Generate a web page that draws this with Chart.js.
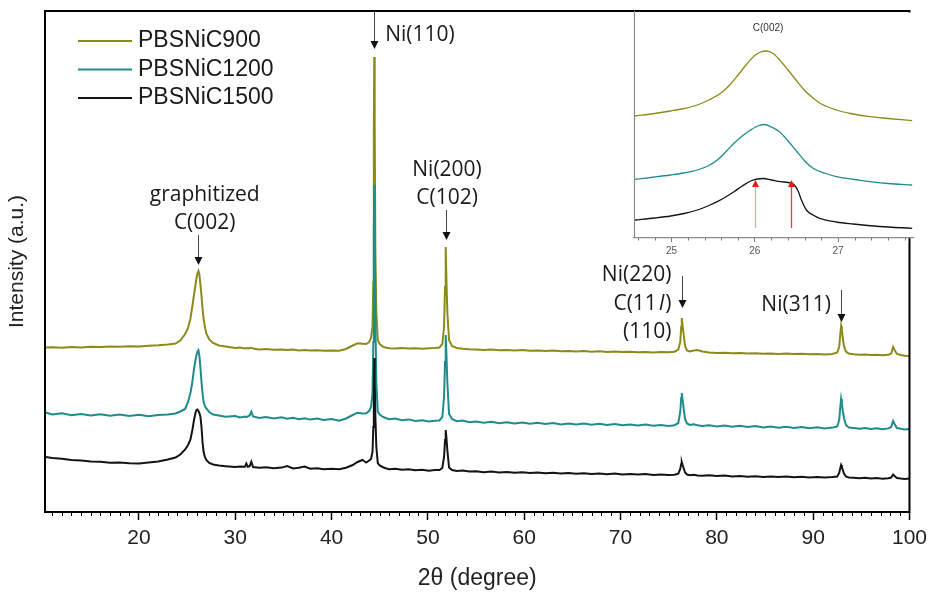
<!DOCTYPE html>
<html>
<head>
<meta charset="utf-8">
<script src="https://cdn.jsdelivr.net/npm/chart.js@4.4.0/dist/chart.umd.min.js"></script>
<style>
  html, body { margin: 0; padding: 0; background: #fff; }
  #wrap { position: relative; width: 933px; height: 592px; }
  #mainChart { position: absolute; left: 0; top: 0; }
  #insetChart { position: absolute; left: 600px; top: 0; }
</style>
</head>
<body>
<div id="wrap">
  <canvas id="mainChart" width="933" height="592"></canvas>
  <canvas id="insetChart" width="333" height="270"></canvas>
</div>
<script>
// 2theta positions (degree) for the full scans
const twoTheta = [
    10.3, 11, 12, 13, 14, 15, 16, 17, 18, 19, 20, 21, 22, 23,
    23.8, 24.3, 24.8, 25.1, 25.35, 25.55, 25.72, 25.87, 25.98, 26.08, 26.18, 26.28, 26.38, 26.49, 26.6, 26.72, 26.85, 27.0, 27.3, 27.7, 28.3,
    29, 30, 30.5, 31.0, 31.15, 31.3, 31.5, 31.67, 31.85, 32.5, 33.2, 34, 34.8, 35.4, 36, 36.6, 37.2, 37.8, 38.5, 39.2, 40, 40.8, 41.5, 42.2, 42.7, 43.2, 43.6, 43.9,
    44.1, 44.25, 44.34, 44.39, 44.43, 44.48, 44.55, 44.65, 44.8, 45.0, 45.3, 45.6, 46.0,
    46.6, 47.3, 48, 48.7, 49.4, 50.1, 50.7, 51.2, 51.5, 51.68, 51.78, 51.85, 51.92, 52.02, 52.2, 52.5, 53, 53.6, 54.3,
    55, 55.8, 56.6, 57.4, 58.2, 59, 59.8, 60.6, 61.4, 62.2, 63, 63.8, 64.6, 65.4, 66.2, 67, 67.8, 68.6, 69.4, 70.2, 71, 71.8, 72.6, 73.4, 74.2, 75, 75.6, 76.0,
    76.2, 76.3, 76.36, 76.45, 76.55, 76.7, 76.9, 77.2, 77.6, 78.0, 78.5,
    79.2, 80, 80.8, 81.6, 82.4, 83.2, 84, 84.8, 85.6, 86.4, 87.2, 88, 88.8, 89.6, 90.4, 91.2, 92.0, 92.5,
    92.7, 92.82, 92.9, 92.98, 93.08, 93.2, 93.4, 93.7,
    94.2, 94.8, 95.4, 96, 96.6, 97.2, 97.8, 98.1, 98.3, 98.45, 98.7, 99.1, 99.5, 100
];

// intensities (a.u., offset patterns as plotted)
const pbsnic900 = [
    164.5, 164.8, 164.3, 165, 164.6, 165.2, 164.9, 165.5, 165.2, 165.8, 165.6, 166.3, 166.8, 167.6,
    168.5, 171.5, 178, 184, 193.5, 206, 217, 227, 234, 238.7, 241, 237.5, 228, 217, 204, 193, 185, 178.5, 172.5, 169, 166.5,
    165.5, 164, 164.5, 163.6, 164, 163.5, 164, 164.3, 163.4, 162.5, 163, 162.2, 162.6, 162, 162.4, 161.6, 162, 161.4, 161.8, 161.2, 161.6, 161.3, 163, 166.5, 168.7, 168.3, 168, 170,
    174, 185, 230, 380, 455, 390, 260, 200, 172, 168, 165.5, 164.5, 163.8,
    163.5, 164, 163.4, 163.8, 163.3, 163.7, 163.9, 164.5, 168, 185, 225, 265, 235, 200, 172, 166, 164, 163.2, 162.7,
    162.5, 162, 162.4, 161.8, 162.1, 161.5, 161.9, 161.2, 161.6, 161, 161.4, 160.8, 161.1, 160.5, 160.9, 160.3, 160.7, 160.1, 160.5, 159.9, 160.3, 159.8, 160.1, 159.6, 160, 159.7, 160.3, 162.5,
    170, 185, 194, 186, 178, 166, 161.5, 160.5, 161.5, 162, 160.5,
    159.5, 159, 159.3, 158.7, 159, 158.5, 158.8, 158.2, 158.6, 158, 158.4, 157.9, 158.2, 157.7, 158, 157.6, 158, 159.5,
    165, 178, 186, 181, 174, 166, 160.5, 158.5,
    157.8, 157.3, 157.6, 157, 157.3, 156.8, 157.2, 158.5, 165, 162, 158, 157, 156.2, 156
];

const pbsnic1200 = [
    99.5, 97.5, 98.8, 96.8, 98, 96.5, 97.8, 96.2, 97.5, 96, 97.2, 95.8, 97, 97.5,
    98.5, 100.5, 103, 110, 119, 130, 143, 152, 157, 160.5, 161.8, 156, 145, 131, 119, 110, 106, 103.5, 100, 97.5, 96.5,
    95.2, 96, 94.6, 95.5, 94.8, 95.6, 96.5, 100.3, 95.5, 94, 95, 93.6, 94.7, 93.2, 94.3, 92.8, 93.8, 92.4, 93.5, 92, 93, 91.3, 93.5, 97, 99.3, 98.5, 98.7, 101,
    105.3, 118, 170, 280, 327, 285, 190, 130, 100.3, 97.5, 95.3, 94, 92.7,
    93.4, 91.8, 92.6, 91, 91.8, 90.4, 91.2, 91.5, 95, 115, 150, 177, 160, 130, 98, 93, 90.8, 91.4, 89.8,
    90.6, 89.2, 90.2, 88.8, 89.8, 88.5, 89.5, 88.2, 89.2, 88, 89, 87.6, 88.6, 87.4, 88.4, 87.2, 88.2, 86.9, 87.9, 86.7, 87.6, 86.4, 87.4, 86.2, 87.1, 86, 86.8, 89,
    100, 114, 119, 112, 104, 93, 88.5, 87, 87.8, 86.8, 86,
    86.8, 85.6, 86.5, 85.2, 86.2, 84.9, 85.9, 84.6, 85.6, 84.3, 85.3, 84, 85, 83.8, 84.7, 83.6, 84.4, 85.5,
    92, 105, 113, 108, 101, 94, 87, 84.5,
    84, 83.2, 84, 83, 83.8, 82.8, 83.6, 85, 91, 88, 84, 83.2, 82.6, 83
];

const pbsnic1500 = [
    55, 54, 53.2, 52, 51.5, 50.6, 50.2, 49.3, 49.6, 48.8, 48.5, 49.5, 50.5, 52.5,
    54.5, 57.5, 62.5, 67, 72.5, 82, 92, 99, 102, 102.5, 101, 99, 95.5, 86, 70.5, 60, 55, 52, 49, 47.5, 46.5,
    45.8, 45, 45.6, 45.2, 48.5, 45.3, 45.8, 50.3, 45, 44.2, 44.8, 43.8, 44.4, 46, 43.6, 44.2, 45.5, 43.2, 43.8, 42.8, 43.3, 42.7, 44.3, 47, 50, 52, 49.5, 51.5,
    53, 60, 85, 130, 154, 135, 95, 65, 49, 46.5, 45, 43.8, 42.7,
    43.2, 42.2, 42.8, 41.7, 42.3, 41.3, 41.9, 42, 44, 55, 72, 82, 75, 62, 44.5, 42, 41, 41.5, 40.5,
    40.8, 39.8, 40.4, 39.5, 40.1, 39.2, 39.8, 38.9, 39.5, 38.7, 39.3, 38.4, 39, 38.2, 38.8, 38, 38.6, 37.8, 38.4, 37.6, 38.1, 37.4, 37.9, 37.1, 37.6, 36.9, 37.3, 38.3,
    43, 48, 50, 47, 44, 39.5, 37.5, 36.8, 37.3, 36.6, 36.2,
    36.7, 35.9, 36.4, 35.6, 36.1, 35.3, 35.8, 35.1, 35.6, 34.9, 35.4, 34.7, 35.2, 34.5, 35, 34.4, 34.9, 35.5,
    39, 44, 47, 45, 42, 38.5, 35.5, 34.6,
    34.2, 33.7, 34.3, 33.5, 34, 33.3, 33.8, 34.5, 37.5, 36, 34, 33.4, 33, 33.5
];

// inset: C(002) region
const insetTheta900 = [24.56, 24.8, 24.99, 25.15, 25.31, 25.45, 25.59, 25.7, 25.8, 25.91, 26.0, 26.07, 26.14, 26.22, 26.3, 26.4, 26.5, 26.6, 26.7, 26.8, 26.98, 27.15, 27.38, 27.6, 27.89];
const inset900 = [122, 124.5, 127, 129.5, 133, 138, 144.7, 153, 163, 174.5, 182.5, 186, 187, 184.5, 178, 168, 157.5, 147.5, 140, 134, 128, 124.5, 121.3, 119.5, 117.3];
const insetTheta1200 = [24.56, 24.8, 24.99, 25.15, 25.31, 25.45, 25.55, 25.65, 25.75, 25.85, 25.95, 26.05, 26.12, 26.2, 26.3, 26.4, 26.5, 26.6, 26.7, 26.85, 26.98, 27.2, 27.38, 27.6, 27.89];
const inset1200 = [58.7, 61, 63, 65, 68, 72.5, 78, 86, 94.7, 102, 108, 112.5, 113.5, 111, 106, 97, 87, 77, 69.7, 64.5, 61.3, 58.5, 56.3, 54.5, 53];
const insetTheta1500 = [24.56, 24.8, 24.99, 25.15, 25.31, 25.45, 25.55, 25.65, 25.75, 25.85, 25.95, 26.03, 26.1, 26.2, 26.31, 26.4, 26.47, 26.52, 26.56, 26.62, 26.7, 26.78, 26.98, 27.18, 27.5, 27.89];
const inset1500 = [18, 20, 22, 24.5, 28, 32.5, 36.3, 41, 46.3, 52, 57, 59, 59.5, 58, 56.3, 55.5, 53.5, 47, 38, 28, 23, 19.7, 16, 14, 11.5, 9.7];
const insetMarks = [26.0, 26.44];

const seriesNames = ['PBSNiC900', 'PBSNiC1200', 'PBSNiC1500'];
const seriesColors = ['#8b8b1a', '#1f8c8c', '#141414'];

// peak labels: text anchored at data x / intensity, arrow pointing down
const peakNotes = [
    { x: 26.15, tx: 26.83, align: 'center', lines: ['graphitized', 'C(002)'], ty: [317, 289], from: 277, to: 247 },
    { x: 44.45, tx: 45.57, align: 'left', lines: ['Ni(110)'], ty: [477], from: 501, to: 463 },
    { x: 51.85, tx: 51.99, align: 'center', lines: ['Ni(200)', 'C(102)'], ty: [342, 314], from: 302, to: 272 },
    { x: 76.36, tx: 75.28, align: 'right', lines: ['Ni(220)', 'C(11|l|)', '(110)'], ty: [237, 208, 180], from: 236, to: 204 },
    { x: 92.9, tx: 91.84, align: 'right', lines: ['Ni(311)'], ty: [207], from: 222, to: 190 }
];

const ANNOT_FONT = '"Open Sans", "Liberation Sans", sans-serif';
const AXIS_FONT = '"Liberation Sans", Arial, sans-serif';

function toPoints(xs, ys) {
    return xs.map((x, i) => ({ x: x, y: ys[i] }));
}

function drawDownArrow(ctx, px, yFrom, yTo, lineColor, headColor, head) {
    ctx.strokeStyle = lineColor;
    ctx.lineWidth = 1;
    ctx.beginPath();
    ctx.moveTo(px, yFrom);
    ctx.lineTo(px, yTo - head + 1);
    ctx.stroke();
    ctx.fillStyle = headColor;
    ctx.beginPath();
    ctx.moveTo(px - head / 2, yTo - head);
    ctx.lineTo(px + head / 2, yTo - head);
    ctx.lineTo(px, yTo);
    ctx.closePath();
    ctx.fill();
}

function drawUpArrow(ctx, px, yFrom, yTo, lineColor, headColor, head) {
    ctx.strokeStyle = lineColor;
    ctx.lineWidth = 1.3;
    ctx.beginPath();
    ctx.moveTo(px, yFrom);
    ctx.lineTo(px, yTo + head - 1);
    ctx.stroke();
    ctx.fillStyle = headColor;
    ctx.beginPath();
    ctx.moveTo(px - head / 2, yTo + head);
    ctx.lineTo(px + head / 2, yTo + head);
    ctx.lineTo(px, yTo);
    ctx.closePath();
    ctx.fill();
}

// a line like 'C(11|l|)' -> the middle piece is italic
function drawNoteLine(ctx, text, px, py, align) {
    const parts = text.split('|');
    const fonts = parts.map((p, i) => (i % 2 === 1 ? 'italic ' : '') + '21px ' + ANNOT_FONT);
    let total = 0;
    const widths = parts.map((p, i) => {
        ctx.font = fonts[i];
        const w = ctx.measureText(p).width + (i % 2 === 1 ? 3 : 0);
        total += w;
        return w;
    });
    let start = px;
    if (align === 'center') start = px - total / 2;
    if (align === 'right') start = px - total;
    ctx.textAlign = 'left';
    parts.forEach((p, i) => {
        ctx.font = fonts[i];
        ctx.fillText(p, start + (i % 2 === 1 ? 2 : 0), py);
        start += widths[i];
    });
}

const mainDecor = {
    id: 'mainDecor',
    afterDatasetsDraw(chart) {
        const { ctx, chartArea: a, scales: { x, y } } = chart;
        ctx.save();

        // legend
        ctx.textBaseline = 'middle';
        ctx.font = '23px ' + AXIS_FONT;
        chart.data.datasets.forEach((ds, i) => {
            const ly = a.top + 30 + i * 28.5;
            ctx.strokeStyle = ds.borderColor;
            ctx.lineWidth = 2;
            ctx.beginPath();
            ctx.moveTo(a.left + 33, ly);
            ctx.lineTo(a.left + 87, ly);
            ctx.stroke();
            ctx.fillStyle = '#1a1a1a';
            ctx.textAlign = 'left';
            ctx.fillText(ds.label, a.left + 93, ly);
        });

        // peak labels
        peakNotes.forEach(n => {
            const ax = Math.round(x.getPixelForValue(n.x)) + 0.5;
            drawDownArrow(ctx, ax, y.getPixelForValue(n.from), y.getPixelForValue(n.to), '#444', '#111', 8);
            ctx.fillStyle = '#1a1a1a';
            n.lines.forEach((t, i) => {
                drawNoteLine(ctx, t, x.getPixelForValue(n.tx), y.getPixelForValue(n.ty[i]), n.align);
            });
        });
        ctx.restore();
    },
    afterDraw(chart) {
        const { ctx, chartArea: a, scales: { x } } = chart;
        ctx.save();
        ctx.strokeStyle = '#000';
        ctx.lineWidth = 1;
        for (let v = 11; v < 100; v++) {
            if (v % 10 === 0) continue;
            const px = Math.round(x.getPixelForValue(v)) + 0.5;
            ctx.beginPath();
            ctx.moveTo(px, a.bottom);
            ctx.lineTo(px, a.bottom + 4);
            ctx.stroke();
        }
        ctx.lineWidth = 2;
        ctx.strokeRect(a.left, a.top, a.right - a.left, a.bottom - a.top);
        ctx.restore();
    }
};

const mainSeries = [pbsnic900, pbsnic1200, pbsnic1500];

new Chart(document.getElementById('mainChart'), {
    type: 'line',
    data: {
        datasets: mainSeries.map((ys, i) => ({
            label: seriesNames[i],
            data: toPoints(twoTheta, ys),
            borderColor: seriesColors[i],
            borderWidth: 2,
            pointRadius: 0,
            tension: 0,
            order: 3 - i
        }))
    },
    options: {
        responsive: false,
        devicePixelRatio: 1,
        animation: false,
        events: [],
        layout: { padding: { top: 11, right: 21, bottom: 0, left: 0 } },
        plugins: { legend: { display: false }, tooltip: { enabled: false } },
        scales: {
            x: {
                type: 'linear',
                min: 10.25,
                max: 100,
                afterFit: s => { s.height = 80; },
                border: { display: false },
                grid: { drawOnChartArea: false, drawTicks: true, tickLength: 8, tickColor: '#000', tickWidth: 1.5 },
                ticks: {
                    stepSize: 10,
                    includeBounds: false,
                    autoSkip: false,
                    maxRotation: 0,
                    padding: 6,
                    color: '#222',
                    font: { family: AXIS_FONT, size: 21 }
                },
                title: {
                    display: true,
                    text: '2θ (degree)',
                    color: '#222',
                    font: { family: AXIS_FONT, size: 23 },
                    padding: { top: 0, bottom: 0 }
                }
            },
            y: {
                min: 0,
                max: 501,
                afterFit: s => { s.width = 45; },
                border: { display: false },
                grid: { display: false },
                ticks: { display: false },
                title: {
                    display: true,
                    text: 'Intensity (a.u.)',
                    color: '#222',
                    font: { family: AXIS_FONT, size: 21 },
                    padding: { top: 5, bottom: 0 }
                }
            }
        }
    },
    plugins: [mainDecor]
});

const insetDecor = {
    id: 'insetDecor',
    beforeDraw(chart) {
        const { ctx, chartArea: a } = chart;
        ctx.save();
        ctx.fillStyle = '#fff';
        ctx.fillRect(a.left, a.top + 1.5, a.right - a.left - 1.5, a.bottom - a.top - 1.5);
        ctx.restore();
    },
    afterDatasetsDraw(chart) {
        const { ctx, chartArea: a, scales: { x, y } } = chart;
        ctx.save();
        // left border
        ctx.strokeStyle = '#8a8a8a';
        ctx.lineWidth = 1.2;
        ctx.beginPath();
        ctx.moveTo(a.left + 0.5, a.top);
        ctx.lineTo(a.left + 0.5, a.bottom);
        ctx.stroke();
        // minor ticks every 0.2
        ctx.strokeStyle = '#777';
        ctx.lineWidth = 1;
        for (let v = 24.6; v < 27.9; v += 0.2) {
            const r = Math.round(v * 10) / 10;
            if (Math.abs(r - Math.round(r)) < 0.01) continue;
            const px = Math.round(x.getPixelForValue(r)) + 0.5;
            ctx.beginPath();
            ctx.moveTo(px, a.bottom);
            ctx.lineTo(px, a.bottom + 2.5);
            ctx.stroke();
        }
        // title
        ctx.fillStyle = '#333';
        ctx.font = '10px ' + AXIS_FONT;
        ctx.textAlign = 'center';
        ctx.textBaseline = 'middle';
        ctx.fillText('C(002)', x.getPixelForValue(26.16), y.getPixelForValue(210));
        // red markers at the split C(002) peak
        insetMarks.forEach((m, i) => {
            drawUpArrow(ctx, Math.round(x.getPixelForValue(m)) + 0.5, y.getPixelForValue(10), y.getPixelForValue(58),
                i === 0 ? '#f4a3a3' : '#ee3a3a', '#f01818', 7);
        });
        ctx.restore();
    }
};

const insetSeries = [
    toPoints(insetTheta900, inset900),
    toPoints(insetTheta1200, inset1200),
    toPoints(insetTheta1500, inset1500)
];

new Chart(document.getElementById('insetChart'), {
    type: 'line',
    data: {
        datasets: insetSeries.map((pts, i) => ({
            label: seriesNames[i],
            data: pts,
            borderColor: seriesColors[i],
            borderWidth: 1.3,
            pointRadius: 0,
            cubicInterpolationMode: 'monotone',
            order: 3 - i
        }))
    },
    options: {
        responsive: false,
        devicePixelRatio: 1,
        animation: false,
        events: [],
        layout: { padding: { top: 11, right: 20, bottom: 0, left: 34 } },
        plugins: { legend: { display: false }, tooltip: { enabled: false } },
        scales: {
            x: {
                type: 'linear',
                min: 24.55,
                max: 27.9,
                afterFit: s => { s.height = 32; },
                border: { display: true, color: '#8a8a8a', width: 1.2 },
                grid: { drawOnChartArea: false, drawTicks: true, tickLength: 4, tickColor: '#777', tickWidth: 1 },
                ticks: {
                    stepSize: 1,
                    includeBounds: false,
                    autoSkip: false,
                    maxRotation: 0,
                    padding: 3,
                    color: '#555',
                    font: { family: AXIS_FONT, size: 10 }
                }
            },
            y: { display: false, min: 0, max: 227 }
        }
    },
    plugins: [insetDecor]
});
</script>
</body>
</html>
